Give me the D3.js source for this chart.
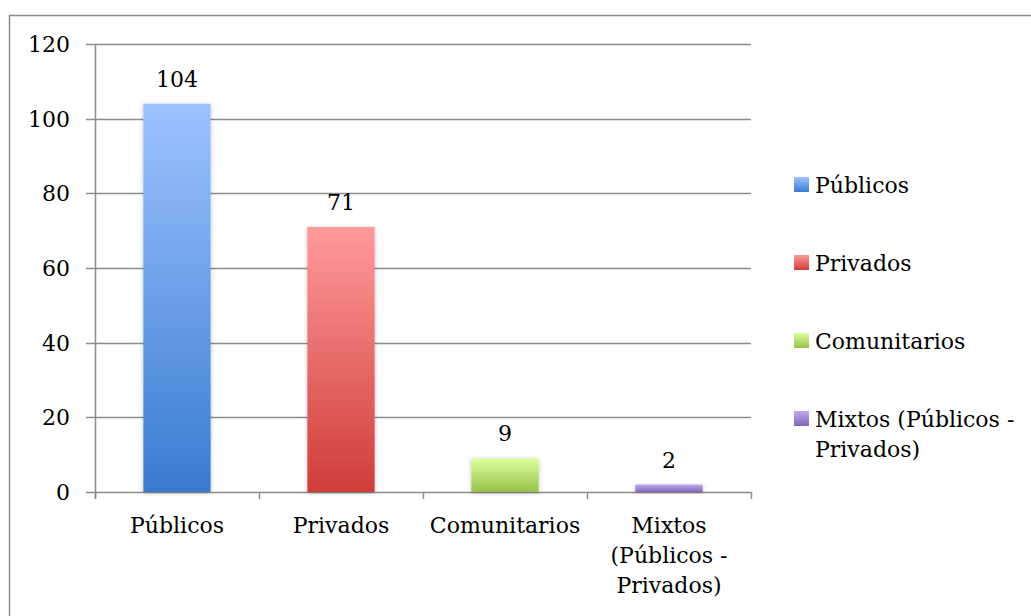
<!DOCTYPE html>
<html>
<head>
<meta charset="utf-8">
<script src="https://cdn.jsdelivr.net/npm/d3@7"></script>
<style>
  html, body { margin: 0; padding: 0; background: #fff; }
  svg { display: block; }
  text { font-family: "DejaVu Serif", serif; fill: #000; }
</style>
</head>
<body>
<svg id="chart" width="1031" height="616"></svg>
<script>
// Chart data
const categories = ["Públicos", "Privados", "Comunitarios", "Mixtos (Públicos - Privados)"];
const values = [104, 71, 9, 2];
const axisLabels = [["Públicos"], ["Privados"], ["Comunitarios"], ["Mixtos", "(Públicos -", "Privados)"]];
const legendLabels = [["Públicos"], ["Privados"], ["Comunitarios"], ["Mixtos (Públicos -", "Privados)"]];
const yTicks = [0, 20, 40, 60, 80, 100, 120];
const gradTop = ["#9dc3ff", "#ff9a9a", "#dcff9e", "#c2aaee"];
const gradBottom = ["#3a7bcf", "#cf3d3a", "#97c148", "#8365b8"];

const svg = d3.select("#chart");
const fontSize = 22;

// Outer frame
svg.append("rect")
  .attr("x", 9.5).attr("y", 15.5)
  .attr("width", 1100).attr("height", 700)
  .attr("fill", "none").attr("stroke", "#8c8c8c").attr("stroke-width", 1.5);

const plot = { left: 95, right: 751, top: 44, bottom: 492 };

const x = d3.scaleBand().domain(categories).range([plot.left, plot.right]).padding(0);
const y = d3.scaleLinear().domain([0, 120]).range([plot.bottom, plot.top]);

// Gradients and shadow
const defs = svg.append("defs");
categories.forEach((c, i) => {
  const g = defs.append("linearGradient")
    .attr("id", "grad" + i).attr("x1", 0).attr("y1", 0).attr("x2", 0).attr("y2", 1);
  g.append("stop").attr("offset", "0%").attr("stop-color", gradTop[i]);
  g.append("stop").attr("offset", "100%").attr("stop-color", gradBottom[i]);
});
const shadow = defs.append("filter").attr("id", "shadow")
  .attr("x", "-20%").attr("y", "-20%").attr("width", "140%").attr("height", "140%");
shadow.append("feDropShadow")
  .attr("dx", 0).attr("dy", 1).attr("stdDeviation", 2)
  .attr("flood-color", "#000").attr("flood-opacity", 0.25);

// Horizontal gridlines with left tick marks
const grid = svg.append("g");
grid.selectAll("line").data(yTicks).join("line")
  .attr("x1", plot.left - 9).attr("x2", plot.right)
  .attr("y1", d => Math.round(y(d)) + 0.5).attr("y2", d => Math.round(y(d)) + 0.5)
  .attr("stroke", "#8c8c8c").attr("stroke-width", 1.5);

// Y axis line
svg.append("line")
  .attr("x1", plot.left + 0.5).attr("x2", plot.left + 0.5)
  .attr("y1", plot.top).attr("y2", plot.bottom + 7)
  .attr("stroke", "#8c8c8c").attr("stroke-width", 1.5);

// Y tick labels
svg.append("g").selectAll("text").data(yTicks).join("text")
  .attr("x", 70).attr("y", d => y(d) + 8)
  .attr("text-anchor", "end").attr("font-size", fontSize)
  .text(d => d);

// X axis category boundary ticks
const bounds = categories.map(c => x(c)).concat([plot.right]);
svg.append("g").selectAll("line").data(bounds).join("line")
  .attr("x1", d => Math.round(d) + 0.5).attr("x2", d => Math.round(d) + 0.5)
  .attr("y1", plot.bottom).attr("y2", plot.bottom + 7)
  .attr("stroke", "#8c8c8c").attr("stroke-width", 1.5);

// Bars
const barFrac = 0.41;
const bw = x.bandwidth() * barFrac;
const barX = c => x(c) + (x.bandwidth() - bw) / 2;
svg.append("g").selectAll("rect").data(categories).join("rect")
  .attr("x", c => barX(c))
  .attr("y", (c, i) => y(values[i]))
  .attr("width", bw)
  .attr("height", (c, i) => y(0) - y(values[i]))
  .attr("fill", (c, i) => `url(#grad${i})`)
  .attr("filter", "url(#shadow)");

// Value labels
svg.append("g").selectAll("text").data(categories).join("text")
  .attr("x", c => x(c) + x.bandwidth() / 2)
  .attr("y", (c, i) => y(values[i]) - 17)
  .attr("text-anchor", "middle").attr("font-size", fontSize)
  .text((c, i) => values[i]);

// Category labels
const xl = svg.append("g").selectAll("text").data(categories).join("text")
  .attr("x", c => x(c) + x.bandwidth() / 2)
  .attr("y", 533)
  .attr("text-anchor", "middle").attr("font-size", fontSize);
xl.each(function (c, i) {
  const t = d3.select(this);
  axisLabels[i].forEach((line, j) => {
    t.append("tspan").attr("x", x(c) + x.bandwidth() / 2).attr("dy", j === 0 ? 0 : 30).text(line);
  });
});

// Legend
const legend = svg.append("g").attr("transform", "translate(794,177)");
const item = legend.selectAll("g").data(categories).join("g")
  .attr("transform", (c, i) => `translate(0,${i * 78})`);
item.append("rect")
  .attr("width", 15).attr("height", 15)
  .attr("fill", (c, i) => `url(#grad${i})`);
item.append("text")
  .attr("x", 21).attr("y", 16).attr("font-size", fontSize)
  .each(function (c, i) {
    const t = d3.select(this);
    legendLabels[i].forEach((line, j) => {
      t.append("tspan").attr("x", 21).attr("dy", j === 0 ? 0 : 30).text(line);
    });
  });
</script>
</body>
</html>
